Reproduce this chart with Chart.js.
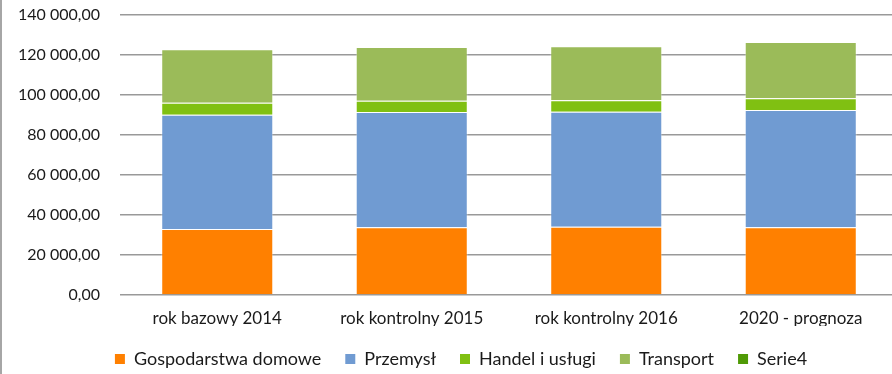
<!DOCTYPE html>
<html>
<head>
<meta charset="utf-8">
<script src="https://cdn.jsdelivr.net/npm/chart.js@4/dist/chart.umd.min.js"></script>
<style>
  html, body { margin: 0; padding: 0; background: #fff; overflow: hidden; }
  #frame { border-left: 2px solid #a6a6a6; width: 896px; height: 374px; }
  canvas { display: block; }
</style>
</head>
<body>
<div id="frame"><canvas id="myCanvas" width="896" height="374"></canvas></div>
<script>
'use strict';

// categories (years) and the stacked series
const categories = ['rok bazowy 2014', 'rok kontrolny 2015', 'rok kontrolny 2016', '2020 - prognoza'];
const gospodarstwa = [33000, 33830, 34170, 33830];
const przemysl = [57170, 57670, 57500, 58670];
const handel = [6000, 5670, 5670, 5830];
const transport = [26670, 26830, 27000, 28170];
const serie4 = [0, 0, 0, 0];

const yTickLabels = ['0,00', '20 000,00', '40 000,00', '60 000,00', '80 000,00',
  '100 000,00', '120 000,00', '140 000,00'];

const yFont = { family: 'Lato', size: 16 };
const xFont = { family: 'Lato', size: 17 };
const legendFont = { family: 'Lato', size: 18 };
const textColor = '#1a1a1a';
const edge = 'rgba(255,255,255,0.35)';

// nudge the legend row to the right of the canvas centre
const legendShift = {
  id: 'legendShift',
  afterLayout(chart) {
    chart.legend.left += 11;
    chart.legend.right += 11;
  }
};

const ctx = document.getElementById('myCanvas').getContext('2d');

new Chart(ctx, {
  type: 'bar',
  data: {
    labels: categories,
    datasets: [
      { label: 'Gospodarstwa domowe', data: gospodarstwa, backgroundColor: '#ff8000', borderColor: edge, borderWidth: 1 },
      { label: 'Przemysł', data: przemysl, backgroundColor: '#709bd2', borderColor: edge, borderWidth: 1 },
      { label: 'Handel i usługi', data: handel, backgroundColor: '#80c012', borderColor: edge, borderWidth: 1 },
      { label: 'Transport', data: transport, backgroundColor: '#9bbb59', borderColor: edge, borderWidth: 1 },
      { label: 'Serie4', data: serie4, backgroundColor: '#4f9a06', borderWidth: 0 }
    ]
  },
  options: {
    responsive: false,
    animation: false,
    datasets: {
      bar: { barPercentage: 1, categoryPercentage: 0.576 }
    },
    layout: { padding: 0 },
    scales: {
      x: {
        stacked: true,
        afterFit: (scale) => { scale.height = 31; },
        grid: { display: false, drawTicks: false },
        border: { display: false },
        ticks: { font: xFont, color: textColor, padding: 13, maxRotation: 0 }
      },
      y: {
        stacked: true,
        min: 0,
        max: 140000,
        afterFit: (scale) => {
          scale.width = 118;
          scale.paddingTop = 15;
        },
        border: { display: false },
        grid: { color: '#999999', lineWidth: 1.6, drawTicks: false },
        ticks: {
          stepSize: 20000,
          font: yFont,
          color: textColor,
          padding: 20,
          callback: (value) => yTickLabels[Math.round(value / 20000)]
        }
      }
    },
    plugins: {
      tooltip: { enabled: false },
      legend: {
        position: 'bottom',
        maxHeight: 48,
        labels: {
          font: legendFont,
          color: textColor,
          boxWidth: 10,
          boxHeight: 10,
          padding: 24,
          generateLabels: (chart) => chart.data.datasets.map((ds, i) => ({
            text: ds.label,
            fillStyle: ds.backgroundColor,
            strokeStyle: ds.backgroundColor,
            lineWidth: 0,
            fontColor: textColor,
            datasetIndex: i
          }))
        }
      }
    }
  },
  plugins: [legendShift]
});
</script>
</body>
</html>
